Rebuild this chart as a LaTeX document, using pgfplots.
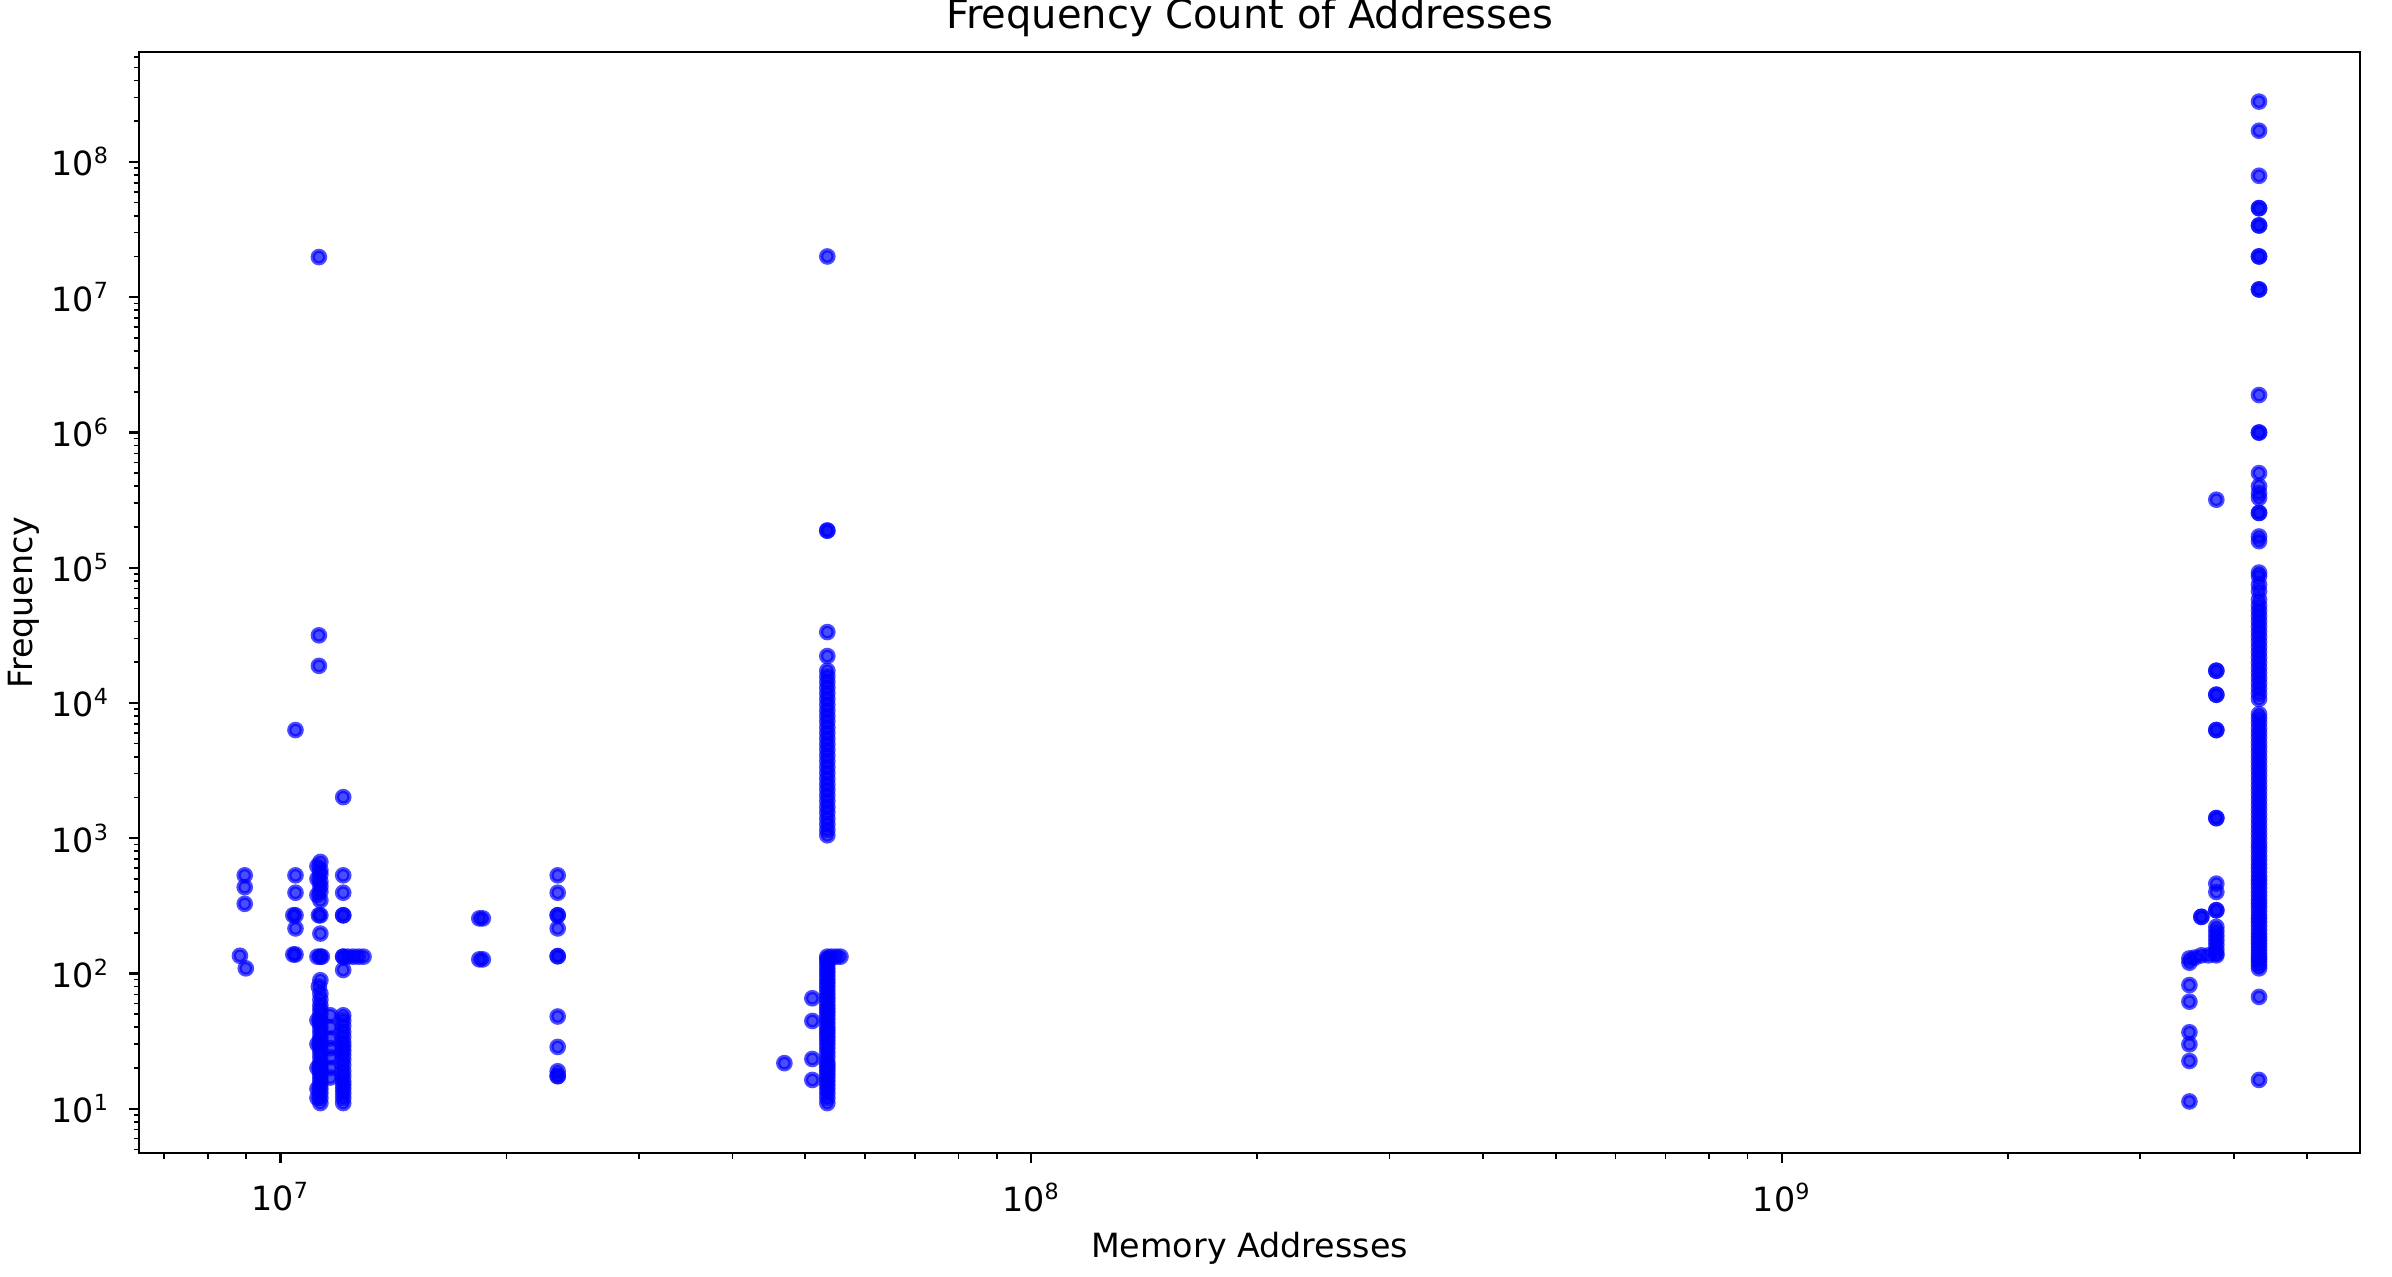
\documentclass[border=0pt]{standalone}
\usepackage{fontspec}
\setmainfont{DejaVu Sans}
\usepackage{pgfplots}
\pgfplotsset{compat=1.18}
\usepackage{pgfplotstable}

\pgfplotstableread{
x y
8.83e6 135
8.99e6 109
8.96e6 531
8.96e6 434
8.96e6 327
1.047e7 6300
1.047e7 531
1.047e7 395
1.047e7 269
1.04e7 269
1.047e7 215
1.047e7 138
1.04e7 138
1.125e7 1.98e7
1.125e7 31600
1.125e7 18800
1.13e7 667
1.12e7 620
1.13e7 580
1.13e7 540
1.12e7 500
1.13e7 477
1.13e7 440
1.13e7 402
1.12e7 380
1.13e7 347
1.13e7 269
1.125e7 269
1.13e7 197
1.13e7 133
1.12e7 133
1.135e7 133
1.13e7 89
1.125e7 80
1.13e7 71
1.13e7 64
1.13e7 58
1.13e7 54
1.13e7 50
1.13e7 46
1.13e7 43
1.13e7 40
1.13e7 37
1.13e7 34
1.13e7 32
1.13e7 30
1.13e7 28
1.13e7 26
1.13e7 24
1.13e7 22
1.13e7 21
1.13e7 20
1.13e7 19
1.13e7 18
1.13e7 17
1.13e7 16
1.13e7 15
1.13e7 14
1.13e7 13
1.13e7 12
1.13e7 11
1.12e7 45
1.12e7 30
1.12e7 20
1.12e7 14
1.12e7 12
1.165e7 49
1.165e7 40
1.165e7 33
1.165e7 28
1.165e7 24
1.165e7 20
1.165e7 17
1.212e7 2010
1.212e7 531
1.212e7 395
1.212e7 269
1.212e7 269
1.212e7 133
1.212e7 133
1.23e7 133
1.25e7 133
1.27e7 133
1.29e7 133
1.212e7 106
1.212e7 49
1.212e7 45
1.212e7 41
1.212e7 37
1.212e7 34
1.212e7 31
1.212e7 29
1.212e7 27
1.212e7 25
1.212e7 23
1.212e7 21
1.212e7 19
1.212e7 17.5
1.212e7 16
1.212e7 15
1.212e7 14
1.212e7 13
1.212e7 12
1.212e7 11
1.84e7 255
1.86e7 255
1.84e7 127
1.86e7 127
2.34e7 531
2.34e7 395
2.34e7 269
2.34e7 269
2.34e7 215
2.34e7 134
2.34e7 134
2.34e7 48
2.34e7 28.6
2.34e7 18.9
2.34e7 17.4
2.34e7 17.4
4.69e7 21.7
5.11e7 65.5
5.11e7 44.5
5.11e7 23.3
5.11e7 16.3
5.35e7 2.0e7
5.35e7 1.88e5
5.35e7 1.88e5
5.35e7 33400
5.35e7 22200
5.35e7 1050
5.35e7 1150
5.35e7 1270
5.35e7 1400
5.35e7 1550
5.35e7 1700
5.35e7 1880
5.35e7 2070
5.35e7 2280
5.35e7 2500
5.35e7 2760
5.35e7 3040
5.35e7 3350
5.35e7 3700
5.35e7 4080
5.35e7 4500
5.35e7 4950
5.35e7 5450
5.35e7 6000
5.35e7 6600
5.35e7 7300
5.35e7 8000
5.35e7 8800
5.35e7 9700
5.35e7 10700
5.35e7 11800
5.35e7 13000
5.35e7 14300
5.35e7 15700
5.35e7 17300
5.35e7 11
5.35e7 12
5.35e7 13
5.35e7 14
5.35e7 15
5.35e7 16
5.35e7 17
5.35e7 18
5.35e7 19
5.35e7 20
5.35e7 21
5.35e7 22
5.35e7 24
5.35e7 26
5.35e7 28
5.35e7 30
5.35e7 32
5.35e7 34
5.35e7 36
5.35e7 38
5.35e7 40
5.35e7 43
5.35e7 46
5.35e7 49
5.35e7 52
5.35e7 55
5.35e7 58
5.35e7 62
5.35e7 66
5.35e7 70
5.35e7 75
5.35e7 80
5.35e7 85
5.35e7 90
5.35e7 96
5.35e7 102
5.35e7 108
5.35e7 115
5.35e7 122
5.35e7 128
5.35e7 133
5.42e7 133
5.5e7 133
5.57e7 133
3.49e9 129
3.49e9 120
3.49e9 82
3.49e9 61.8
3.49e9 36.7
3.49e9 29.9
3.49e9 22.5
3.49e9 11.3
3.55e9 131
3.62e9 262
3.62e9 262
3.62e9 136
3.7e9 136
3.79e9 3.18e5
3.79e9 17300
3.79e9 17300
3.79e9 11500
3.79e9 11500
3.79e9 6300
3.79e9 6300
3.79e9 1407
3.79e9 1407
3.79e9 461
3.79e9 400
3.79e9 293
3.79e9 293
3.79e9 221
3.79e9 205
3.79e9 190
3.79e9 176
3.79e9 163
3.79e9 150
3.79e9 140
3.79e9 136
4.32e9 2.79e8
4.32e9 1.70e8
4.32e9 7.9e7
4.32e9 4.55e7
4.32e9 4.55e7
4.32e9 3.39e7
4.32e9 3.39e7
4.32e9 2.0e7
4.32e9 2.0e7
4.32e9 1.14e7
4.32e9 1.14e7
4.32e9 1.89e6
4.32e9 9.98e5
4.32e9 9.98e5
4.32e9 5.0e5
4.32e9 4.0e5
4.32e9 3.56e5
4.32e9 3.28e5
4.32e9 2.54e5
4.32e9 2.54e5
4.32e9 1.7e5
4.32e9 1.57e5
4.32e9 92000
4.32e9 86500
4.32e9 75000
4.32e9 67000
4.32e9 58000
4.32e9 52300
4.32e9 47900
4.32e9 43900
4.32e9 40200
4.32e9 36800
4.32e9 33700
4.32e9 30900
4.32e9 28300
4.32e9 25900
4.32e9 23700
4.32e9 21700
4.32e9 19900
4.32e9 18200
4.32e9 16700
4.32e9 15300
4.32e9 14000
4.32e9 12800
4.32e9 11700
4.32e9 10700
4.32e9 8260
4.32e9 7700
4.32e9 7100
4.32e9 6500
4.32e9 6000
4.32e9 5550
4.32e9 5100
4.32e9 4700
4.32e9 4350
4.32e9 4000
4.32e9 3700
4.32e9 3400
4.32e9 3140
4.32e9 2890
4.32e9 2660
4.32e9 2450
4.32e9 2260
4.32e9 2080
4.32e9 1920
4.32e9 1770
4.32e9 1630
4.32e9 1500
4.32e9 1380
4.32e9 1270
4.32e9 1170
4.32e9 1080
4.32e9 1000
4.32e9 920
4.32e9 860
4.32e9 800
4.32e9 740
4.32e9 690
4.32e9 640
4.32e9 600
4.32e9 560
4.32e9 520
4.32e9 490
4.32e9 460
4.32e9 430
4.32e9 400
4.32e9 375
4.32e9 350
4.32e9 330
4.32e9 310
4.32e9 290
4.32e9 270
4.32e9 255
4.32e9 240
4.32e9 225
4.32e9 210
4.32e9 197
4.32e9 186
4.32e9 176
4.32e9 166
4.32e9 157
4.32e9 148
4.32e9 140
4.32e9 133
4.32e9 128
4.32e9 122
4.32e9 115
4.32e9 109
4.32e9 67
4.32e9 16.3
}\datatable

\begin{document}
\begin{tikzpicture}
\path[use as bounding box] (-50.04pt,-44.64pt) rectangle (811.08pt,415.08pt);
\begin{axis}[
  at={(0pt,0pt)}, anchor=south west,
  scale only axis, width=799.56pt, height=396.36pt,
  xmode=log, ymode=log,
  xmin=6.48e6, xmax=5.89e9,
  ymin=4.7, ymax=6.5e8,
  axis line style={line width=0.8pt},
  tick align=outside,
  xtick pos=left, ytick pos=left,
  major tick length=3.5pt, minor tick length=2pt,
  every major tick/.style={line width=0.8pt, black},
  every minor tick/.style={line width=0.6pt, black},
  xtick={1e7,1e8,1e9},
  xticklabels={10\textsuperscript{7},10\textsuperscript{8},10\textsuperscript{9}},
  minor xtick={7e6,8e6,9e6,2e7,3e7,4e7,5e7,6e7,7e7,8e7,9e7,2e8,3e8,4e8,5e8,6e8,7e8,8e8,9e8,2e9,3e9,4e9,5e9},
  ytick={1e1,1e2,1e3,1e4,1e5,1e6,1e7,1e8},
  yticklabels={10\textsuperscript{1},10\textsuperscript{2},10\textsuperscript{3},10\textsuperscript{4},10\textsuperscript{5},10\textsuperscript{6},10\textsuperscript{7},10\textsuperscript{8}},
  minor ytick={5,6,7,8,9,20,30,40,50,60,70,80,90,200,300,400,500,600,700,800,900,2e3,3e3,4e3,5e3,6e3,7e3,8e3,9e3,2e4,3e4,4e4,5e4,6e4,7e4,8e4,9e4,2e5,3e5,4e5,5e5,6e5,7e5,8e5,9e5,2e6,3e6,4e6,5e6,6e6,7e6,8e6,9e6,2e7,3e7,4e7,5e7,6e7,7e7,8e7,9e7,2e8,3e8,4e8,5e8,6e8},
  xticklabel style={anchor=north, inner sep=0pt, yshift=-7pt, font=\fontsize{12}{14}\selectfont},
  yticklabel style={anchor=east, inner sep=0pt, xshift=-7pt, font=\fontsize{12}{14}\selectfont},
  every axis title/.style={at={(axis description cs:0.5,1)}, anchor=base, yshift=8.3pt, inner sep=0pt, font=\fontsize{14.4}{17}\selectfont},
  title={Frequency Count of Addresses},
  xlabel={Memory Addresses},
  every axis x label/.style={at={(axis description cs:0.5,-0.0863)}, anchor=center, inner sep=0pt, font=\fontsize{12}{14}\selectfont},
  ylabel={Frequency},
  every axis y label/.style={at={(axis description cs:-0.0518,0.5)}, anchor=center, rotate=90, inner sep=0pt, font=\fontsize{12}{14}\selectfont},
]
\addplot[only marks, mark=*, mark size=2.236pt,
  mark options={draw=blue, fill=blue, draw opacity=0.7, fill opacity=0.7, line width=1.5pt}]
  table[x=x, y=y] {\datatable};
\end{axis}
\end{tikzpicture}
\end{document}
